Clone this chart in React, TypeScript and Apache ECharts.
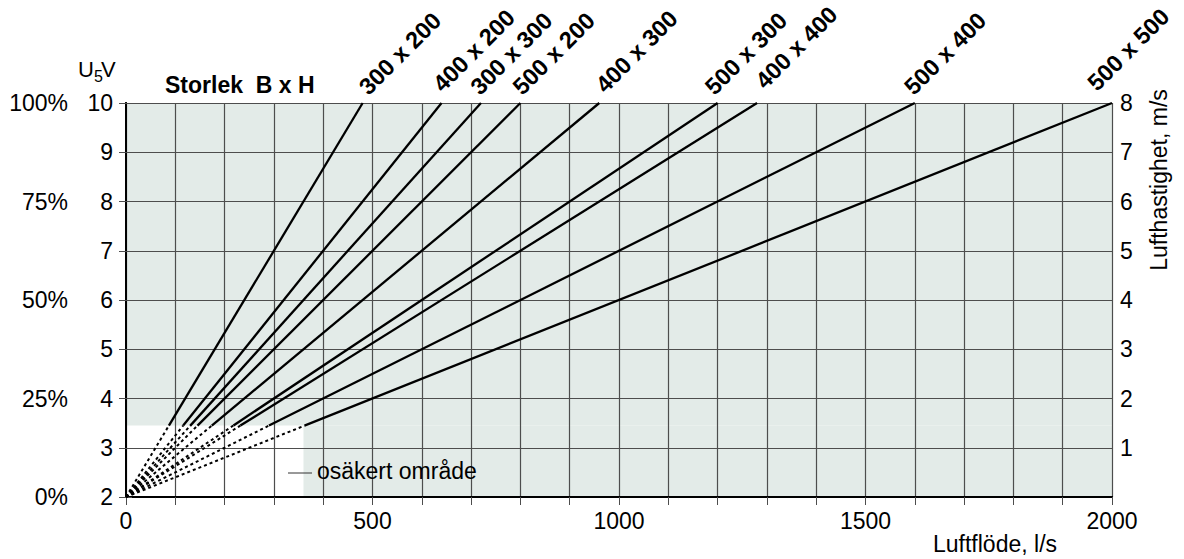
import React, { useEffect, useRef } from "react";
import * as echarts from "echarts";

const sizes = ["300 x 200", "400 x 200", "300 x 300", "500 x 200", "400 x 300", "500 x 300", "400 x 400", "500 x 400", "500 x 500"];
// flow (l/s) where each line reaches U5V = 10 (8 m/s)
const endFlows = [480, 640, 720, 800, 960, 1200, 1280, 1600, 2000];
// flow (l/s) where each line turns from dashed to solid
const breakFlows = [87, 116, 130, 145, 174, 218, 232, 290, 362];
const yMinU5V = 2;
const yMaxU5V = 10;
// uncertain (white) area
const unsafeFlowMax = 360;
const unsafeU5VMax = 3.45;

const FONT = "'Liberation Sans', Arial, Helvetica, sans-serif";
const FS = 23;
const GRID_COLOR = "#4d4d4d";
const BG = "#e3ebe8";

// label pixel nudges (styling only)
const labelNudge: [number, number][] = [
  [9, -4], [4, -7], [2, -4], [5, -4], [9, -6], [0, -4], [11, -10], [2, -4], [-12, -8],
];

export default function App() {
  const ref = useRef<HTMLDivElement>(null);
  useEffect(() => {
    if (!ref.current) return;
    const chart = echarts.init(ref.current, undefined, { renderer: "svg" });

    const series: any[] = [];
    series.push({
      type: "line",
      z: 1,
      data: [[0, 2]],
      symbol: "none",
      silent: true,
      lineStyle: { opacity: 0 },
      markArea: {
        silent: true,
        itemStyle: { color: BG, borderWidth: 0 },
        data: [
          [{ coord: [0, unsafeU5VMax] }, { coord: [2000, yMaxU5V] }],
          [{ coord: [unsafeFlowMax, yMinU5V] }, { coord: [2000, unsafeU5VMax] }],
        ],
      },
    });
    sizes.forEach((name, i) => {
      const end = endFlows[i];
      const bx = breakFlows[i];
      const by = yMinU5V + ((yMaxU5V - yMinU5V) * bx) / end;
      series.push({
        type: "line",
        name: name + " dashed",
        z: 3,
        symbol: "none",
        data: [[0, yMinU5V], [bx, by]],
        lineStyle: { color: "#000", width: 2, type: [3, 3] },
      });
      series.push({
        type: "line",
        name,
        z: 3,
        symbol: "none",
        data: [[bx, by], [end, yMaxU5V]],
        lineStyle: { color: "#000", width: 2.3 },
      });
    });

    const txt = (x: number, y: number, text: string, extra: any = {}) => ({
      type: "text",
      x,
      y,
      z: 10,
      ...(extra.rotation !== undefined ? { rotation: extra.rotation } : {}),
      style: {
        text,
        fontFamily: FONT,
        fontSize: extra.fontSize ?? FS,
        fontWeight: extra.fontWeight ?? "normal",
        fill: "#000",
        align: extra.align ?? "left",
        verticalAlign: extra.verticalAlign ?? "middle",
      },
    });

    const staticGraphics: any[] = [
      txt(78, 69.5, "U", { fontSize: 22 }),
      txt(94, 76, "5", { fontSize: 16 }),
      txt(101, 69.5, "V", { fontSize: 22 }),
      txt(165, 85, "Storlek  B x H", { fontWeight: "bold" }),
      {
        type: "line",
        z: 10,
        shape: { x1: 288, y1: 473, x2: 312, y2: 473 },
        style: { stroke: "#333", lineWidth: 1 },
      },
      txt(317, 470.5, "osäkert område"),
      txt(933, 544, "Luftflöde, l/s"),
      txt(1159, 180, "Lufthastighet, m/s", { rotation: Math.PI / 2, align: "center" }),
    ];

    chart.setOption({
      animation: false,
      backgroundColor: "#fff",
      grid: { left: 126, right: 72, top: 103, bottom: 62 },
      xAxis: [
        {
          type: "value",
          min: 0,
          max: 2000,
          interval: 100,
          z: 2,
          axisLine: { lineStyle: { color: "#000", width: 2 } },
          axisTick: { length: 8, lineStyle: { color: GRID_COLOR, width: 1 } },
          axisLabel: {
            margin: 12,
            fontFamily: FONT,
            fontSize: FS,
            color: "#000",
            formatter: (v: number) => (v % 500 === 0 ? String(v) : ""),
          },
          splitLine: { show: true, lineStyle: { color: GRID_COLOR, width: 1.2 } },
        },
        {
          type: "value",
          position: "top",
          min: 0,
          max: 2000,
          interval: 100,
          z: 2,
          axisLine: { show: true, lineStyle: { color: "#000", width: 2 } },
          axisTick: { show: false },
          axisLabel: { show: false },
          splitLine: { show: false },
        },
      ],
      yAxis: [
        {
          type: "value",
          min: 2,
          max: 10,
          interval: 1,
          z: 2,
          axisLine: { show: true, lineStyle: { color: "#000", width: 2 } },
          axisTick: { show: true, length: 7, lineStyle: { color: GRID_COLOR, width: 1 } },
          axisLabel: { margin: 13, fontFamily: FONT, fontSize: FS, color: "#000" },
          splitLine: { show: true, lineStyle: { color: GRID_COLOR, width: 1.2 } },
        },
        {
          type: "value",
          position: "right",
          min: 0,
          max: 8,
          interval: 1,
          z: 2,
          axisLine: { show: true, lineStyle: { color: "#000", width: 2 } },
          axisTick: { show: true, length: 6, lineStyle: { color: GRID_COLOR, width: 1 } },
          axisLabel: {
            margin: 8,
            fontFamily: FONT,
            fontSize: FS,
            color: "#000",
            formatter: (v: number) => (v === 0 ? "" : String(v)),
          },
          splitLine: { show: false },
        },
        {
          type: "value",
          position: "left",
          min: 0,
          max: 100,
          interval: 25,
          z: 2,
          axisLine: { show: false },
          axisTick: { show: false },
          axisLabel: { margin: 58, fontFamily: FONT, fontSize: FS, color: "#000", formatter: "{value}%" },
          splitLine: { show: false },
        },
      ],
      graphic: staticGraphics,
      series,
    });

    const labelGraphics = sizes.map((name, i) => {
      const p = chart.convertToPixel({ xAxisIndex: 0, yAxisIndex: 0 }, [endFlows[i], yMaxU5V]) as number[];
      const [dx, dy] = labelNudge[i];
      return txt(p[0] + dx, p[1] + dy, name, {
        fontSize: 23.5,
        fontWeight: "bold",
        rotation: Math.PI / 4,
        verticalAlign: "bottom",
      });
    });
    chart.setOption({ graphic: [...staticGraphics, ...labelGraphics] });

    return () => chart.dispose();
  }, []);
  return <div ref={ref} style={{ position: "fixed", left: 0, top: 0, width: 1184, height: 559 }} />;
}
